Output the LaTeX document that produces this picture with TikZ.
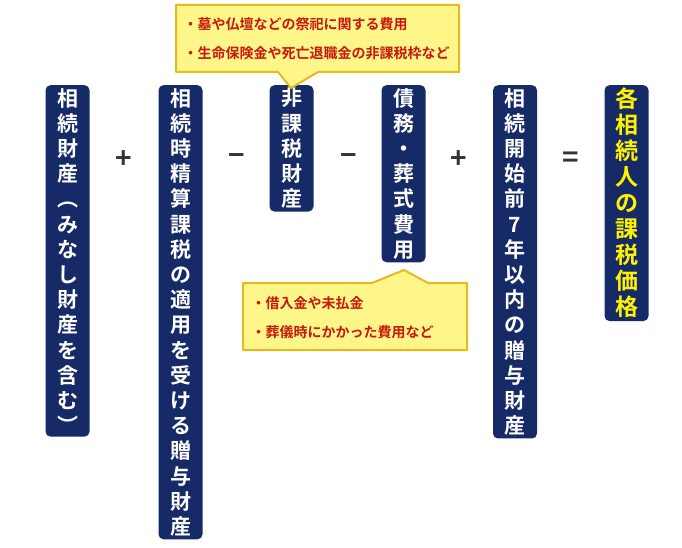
\documentclass[tikz,border=0pt]{standalone}
\usepackage{fontspec}
\newfontfamily\jp{Noto Sans CJK JP}
\newfontfamily\jpb{Noto Sans CJK JP Bold}
\usetikzlibrary{calc}
\definecolor{navy}{HTML}{152A66}
\definecolor{cyell}{HTML}{FFF68A}
\definecolor{cyedge}{HTML}{E8B820}
\definecolor{cred}{HTML}{C8180C}
\definecolor{ansy}{HTML}{FFF200}
\tikzset{
  vbox/.style={fill=navy,rounded corners=5pt,text=white,anchor=north,inner xsep=10pt,inner ysep=3pt,
    text width=24pt,align=center,font=\jpb\fontsize{21}{25.2}\selectfont},
  op/.style={font=\jpb\fontsize{28}{28}\selectfont,text=black!80},
  ctext/.style={text=cred,font=\jpb\fontsize{14}{26}\selectfont,align=left,anchor=west},
  call/.style={fill=cyell,draw=cyedge,line width=2pt,line join=round}
}
\begin{document}
\begin{tikzpicture}[x=1pt,y=-1pt]
\useasboundingbox (0,0) rectangle (682,548);
\node[vbox] (b1) at (67.5,85) {相\\続\\財\\産\\︵\\み\\な\\し\\財\\産\\を\\含\\む\\︶};
\node[vbox] (b2) at (180.5,85) {相\\続\\時\\精\\算\\課\\税\\の\\適\\用\\を\\受\\け\\る\\贈\\与\\財\\産};
\node[vbox] (b3) at (291.5,85) {非\\課\\税\\財\\産};
\node[vbox] (b4) at (403.5,85) {債\\務\\・\\葬\\式\\費\\用};
\node[vbox] (b5) at (515,85) {相\\続\\開\\始\\前\\7\\年\\以\\内\\の\\贈\\与\\財\\産};
\node[vbox,text=ansy,font=\jpb\fontsize{23}{26}\selectfont] (b6) at (626.5,85) {各\\相\\続\\人\\の\\課\\税\\価\\格};
\node[op] (o1) at (124,160) {+};
\node[op] (o2) at (237,160) {−};
\node[op] (o3) at (349,160) {−};
\node[op] (o4) at (459,160) {+};
\node[op] (o5) at (571,160) {=};
% callout 1
\coordinate (t1) at (291,88);
\draw[call] (176,5) -- (459,5) -- (459,72) -- (318,72) -- (t1) -- (278,72) -- (176,72) -- cycle;
\node[ctext] (c1) at (180,24) {・墓や仏壇などの祭祀に関する費用};
\node[ctext] (c2) at (180,53) {・生命保険金や死亡退職金の非課税枠など};
% callout 2
\coordinate (t2) at (404,270);
\draw[call] (243,283) -- (372,283) -- (t2) -- (428,283) -- (467,283) -- (467,350) -- (243,350) -- cycle;
\node[ctext] (c3) at (248,303) {・借入金や未払金};
\node[ctext] (c4) at (248,332) {・葬儀時にかかった費用など};
\end{tikzpicture}
\end{document}
